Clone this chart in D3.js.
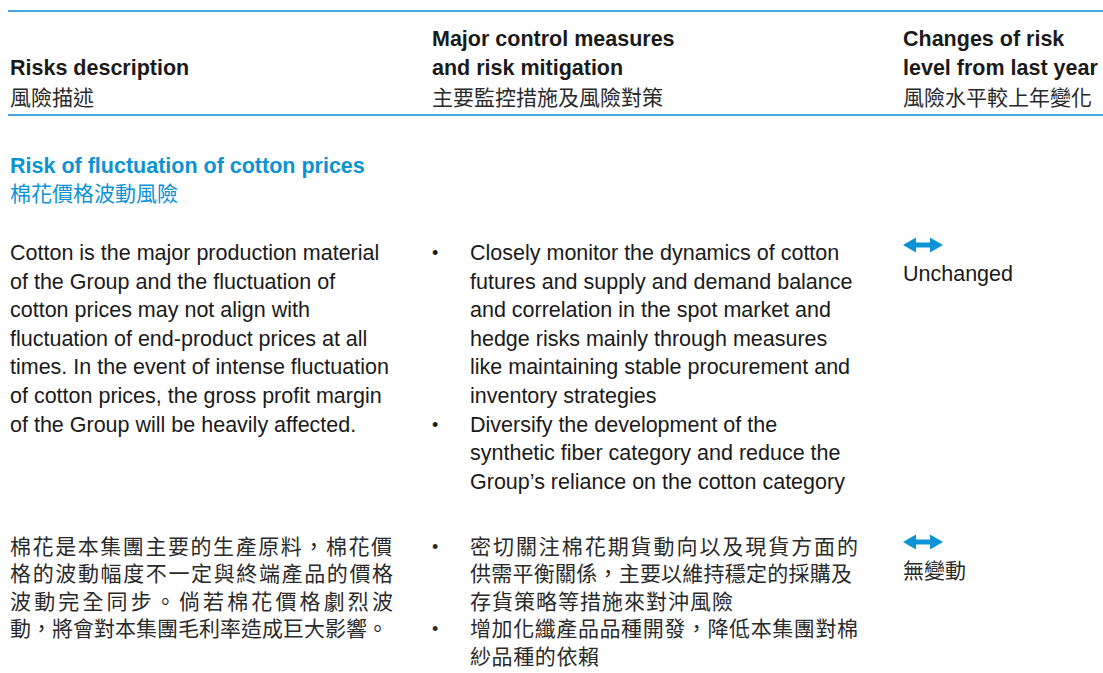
<html>
<head>
    <title>Risk table</title>
    <script src="https://d3js.org/d3.v7.min.js" charSet="utf-8"></script>
    <style>
        body { margin: 0; background: #fff; }
        .en { font-family: "Liberation Sans", Arial, sans-serif; font-size: 21.5px; fill: #1a1a1a; }
        .zh { font-family: "Noto Sans CJK TC", sans-serif; font-size: 21px; fill: #2a2a2a; }
        .hd { font-weight: bold; }
        .blue { fill: #0a93d5; }
    </style>
</head>
<body>
<div id="vis_container"></div>
<script>
    // header text, one array per column
    let headerEn = [
        ["Risks description"],
        ["Major control measures", "and risk mitigation"],
        ["Changes of risk", "level from last year"]
    ];
    let headerZh = ["風險描述", "主要監控措施及風險對策", "風險水平較上年變化"];

    let riskTitleEn = "Risk of fluctuation of cotton prices";
    let riskTitleZh = "棉花價格波動風險";

    let descEn = [
        "Cotton is the major production material",
        "of the Group and the fluctuation of",
        "cotton prices may not align with",
        "fluctuation of end-product prices at all",
        "times. In the event of intense fluctuation",
        "of cotton prices, the gross profit margin",
        "of the Group will be heavily affected."
    ];
    let measuresEn = [
        ["Closely monitor the dynamics of cotton",
         "futures and supply and demand balance",
         "and correlation in the spot market and",
         "hedge risks mainly through measures",
         "like maintaining stable procurement and",
         "inventory strategies"],
        ["Diversify the development of the",
         "synthetic fiber category and reduce the",
         "Group\u2019s reliance on the cotton category"]
    ];
    let changeEn = "Unchanged";

    let descZh = [
        "棉花是本集團主要的生產原料，棉花價",
        "格的波動幅度不一定與終端產品的價格",
        "波動完全同步。倘若棉花價格劇烈波",
        "動，將會對本集團毛利率造成巨大影響。"
    ];
    let measuresZh = [
        ["密切關注棉花期貨動向以及現貨方面的",
         "供需平衡關係，主要以維持穩定的採購及",
         "存貨策略等措施來對沖風險"],
        ["增加化纖產品品種開發，降低本集團對棉",
         "紗品種的依賴"]
    ];
    let changeZh = "無變動";

    let width = 1103, height = 673;
    let lineH = 28.6;

    let svg = d3.select("#vis_container")
        .append("svg")
        .attr("width", width)
        .attr("height", height);

    // column positions
    let col = d3.scaleOrdinal()
        .domain(["desc", "measure", "change"])
        .range([10, 432, 903]);
    let bulletText = 470;

    // line index -> baseline for each block
    let headY = d3.scaleLinear().domain([0, 1]).range([46, 46 + lineH]);
    let titleY = d3.scaleLinear().domain([0, 1]).range([173, 173 + 28]);
    let enY = d3.scaleLinear().domain([0, 1]).range([260, 260 + lineH]);
    let zhY = d3.scaleLinear().domain([0, 1]).range([554, 554 + 27.4]);

    // rules
    svg.selectAll(".rule")
        .data([11, 115])
        .enter().append("line")
        .attr("class", "rule")
        .attr("x1", 8).attr("x2", width)
        .attr("y1", d => d).attr("y2", d => d)
        .attr("stroke", "#3fa9e0")
        .attr("stroke-width", 2);

    // header
    let cols = col.domain();
    headerEn.forEach(function(lines, i) {
        let start = 2 - lines.length;
        lines.forEach(function(t, j) {
            svg.append("text").attr("class", "en hd")
                .attr("x", col(cols[i])).attr("y", headY(start + j))
                .text(t);
        });
        svg.append("text").attr("class", "zh")
            .attr("x", col(cols[i])).attr("y", headY(2) + 2)
            .text(headerZh[i]);
    });

    // risk title
    svg.append("text").attr("class", "en hd blue")
        .attr("x", col("desc")).attr("y", titleY(0)).text(riskTitleEn);
    svg.append("text").attr("class", "zh blue")
        .attr("x", col("desc")).attr("y", titleY(1)).text(riskTitleZh);

    // english block
    svg.selectAll(".descEn").data(descEn).enter().append("text")
        .attr("class", "en descEn")
        .attr("x", col("desc")).attr("y", (d, i) => enY(i)).text(d => d);

    function drawBullets(items, yScale, cls, fit) {
        let k = 0;
        items.forEach(function(lines) {
            svg.append("text").attr("class", cls)
                .attr("x", col("measure")).attr("y", yScale(k) - 1)
                .style("font-family", "Liberation Sans, Arial, sans-serif")
                .style("font-size", "18px")
                .text("\u2022");
            lines.forEach(function(t, j) {
                let tx = svg.append("text").attr("class", cls)
                    .attr("x", bulletText).attr("y", yScale(k)).text(t);
                if (fit && fit[t]) tx.attr("textLength", fit[t]).attr("lengthAdjust", "spacing");
                k++;
            });
        });
    }
    drawBullets(measuresEn, enY, "en", null);

    // arrows for change column
    function arrow(cx, cy) {
        let w = 40, hh = 7.5, sh = 2.5, head = 13;
        let p = d3.path();
        p.moveTo(cx, cy);
        p.lineTo(cx + head, cy - hh);
        p.lineTo(cx + head, cy - sh);
        p.lineTo(cx + w - head, cy - sh);
        p.lineTo(cx + w - head, cy - hh);
        p.lineTo(cx + w, cy);
        p.lineTo(cx + w - head, cy + hh);
        p.lineTo(cx + w - head, cy + sh);
        p.lineTo(cx + head, cy + sh);
        p.lineTo(cx + head, cy + hh);
        p.closePath();
        svg.append("path").attr("d", p.toString()).attr("fill", "#0a93d5");
    }
    arrow(col("change"), enY(0) - 15);
    svg.append("text").attr("class", "en")
        .attr("x", col("change")).attr("y", enY(0) + 21).text(changeEn);

    // chinese block, full lines justified
    let descFit = [382, 383, 383, 378];
    svg.selectAll(".descZh").data(descZh).enter().append("text")
        .attr("class", "zh descZh")
        .attr("x", col("desc")).attr("y", (d, i) => zhY(i))
        .attr("textLength", (d, i) => descFit[i])
        .attr("lengthAdjust", "spacing")
        .text(d => d);

    let fit = {};
    fit[measuresZh[0][0]] = 388;
    fit[measuresZh[0][1]] = 382;
    fit[measuresZh[0][2]] = 263;
    fit[measuresZh[1][0]] = 388;
    fit[measuresZh[1][1]] = 129;
    drawBullets(measuresZh, zhY, "zh", fit);

    arrow(col("change"), zhY(0) - 12);
    svg.append("text").attr("class", "zh")
        .attr("x", col("change")).attr("y", zhY(0) + 24).text(changeZh);
</script>
</body>
</html>
